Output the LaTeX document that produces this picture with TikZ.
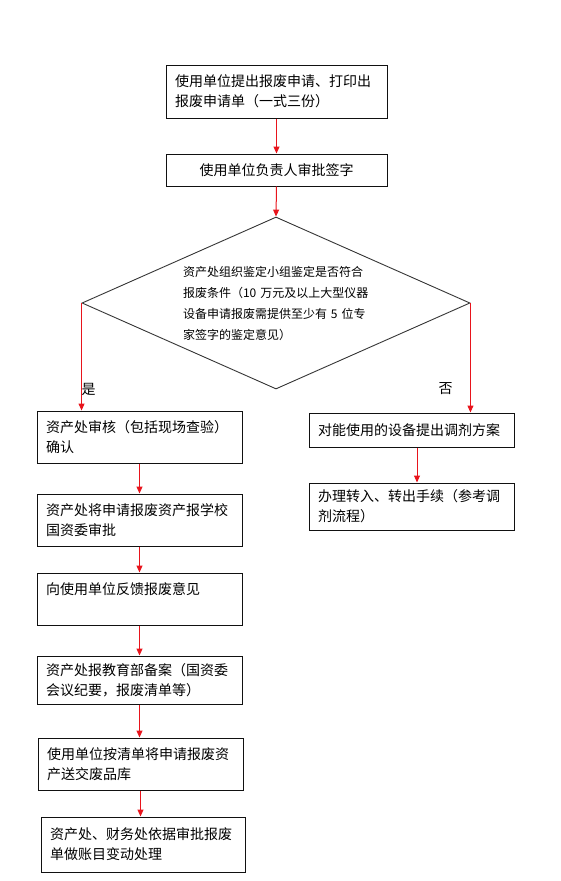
\documentclass[tikz,border=0pt]{standalone}
\usepackage{fontspec}
\setmainfont{Noto Sans CJK SC}
\usetikzlibrary{shapes.geometric,arrows.meta}
\definecolor{flowred}{HTML}{E8141C}
\definecolor{flowfg}{HTML}{111111}

\begin{document}
\begin{tikzpicture}[x=1pt,y=-1pt]
  \tikzstyle{stepbox}=[draw=flowfg, line width=1pt, inner xsep=9pt, inner ysep=0pt, align=left, font=\fontsize{14}{20}\selectfont]
  \tikzstyle{judgebox}=[draw=flowfg!85, line width=0.9pt, shape=diamond, aspect=2.25, inner sep=0pt, minimum width=388pt, minimum height=172pt, text width=186pt, align=left, font=\fontsize{12}{21}\selectfont]
  \tikzstyle{branch}=[inner sep=0pt, font=\fontsize{14}{16}\selectfont]
  \tikzstyle{flow}=[draw=flowred, line width=1pt, -{Triangle[width=6pt,length=7pt]}]

  \path[use as bounding box] (0,0) rectangle (560,881);

  % top: application and signature
  \node[stepbox, text width=203pt, minimum height=53pt] (apply) at (276.5,91.5) {使用单位提出报废申请、打印出\\报废申请单（一式三份）};
  \node[stepbox, text width=203pt, minimum height=32pt, align=center] (sign) at (276.5,170) {使用单位负责人审批签字};

  % decision
  \node[judgebox] (judge) at (276,303) {资产处组织鉴定小组鉴定是否符合\\报废条件（10 万元及以上大型仪器\\设备申请报废需提供至少有 5 位专\\家签字的鉴定意见）};
  \node[branch] (yes) at (88.5,389) {是};
  \node[branch] (no) at (445.5,389) {否};

  % left branch: scrapping
  \node[stepbox, text width=187pt, minimum height=52pt] (audit) at (139.5,437) {资产处审核（包括现场查验）\\确认};
  \node[stepbox, text width=187pt, minimum height=52pt] (report) at (139.5,520) {资产处将申请报废资产报学校\\国资委审批};
  \node[stepbox, text width=187pt, minimum height=52pt] (feedback) at (139.5,599) {向使用单位反馈报废意见\\ \mbox{}};
  \node[stepbox, text width=187pt, minimum height=48pt] (record) at (139.5,680) {资产处报教育部备案（国资委\\会议纪要，报废清单等）};
  \node[stepbox, text width=187pt, minimum height=52pt] (deliver) at (140.5,764) {使用单位按清单将申请报废资\\产送交废品库};
  \node[stepbox, text width=186pt, minimum height=55pt] (account) at (143,844.5) {资产处、财务处依据审批报废\\单做账目变动处理};

  % right branch: reallocation
  \node[stepbox, text width=187pt, minimum height=34pt] (adjust) at (411.5,430) {对能使用的设备提出调剂方案};
  \node[stepbox, text width=187pt, minimum height=47pt] (transfer) at (411.5,506.5) {办理转入、转出手续（参考调\\剂流程）};

  % connectors
  \draw[flow] (apply.south) -- (sign.north);
  \draw[flow] (sign.south) -- (judge.north);
  \draw[flow] (judge.west) -- (judge.west |- audit.north);
  \draw[flow] (judge.east) -- (judge.east |- adjust.north);
  \foreach \a/\b in {audit/report, report/feedback, feedback/record, record/deliver, deliver/account} {
    \draw[flow] (\a.south) -- (\a.south |- \b.north);
  }
  \draw[flow] ([xshift=5.5pt]adjust.south) -- ([xshift=5.5pt]adjust.south |- transfer.north);
\end{tikzpicture}
\end{document}
